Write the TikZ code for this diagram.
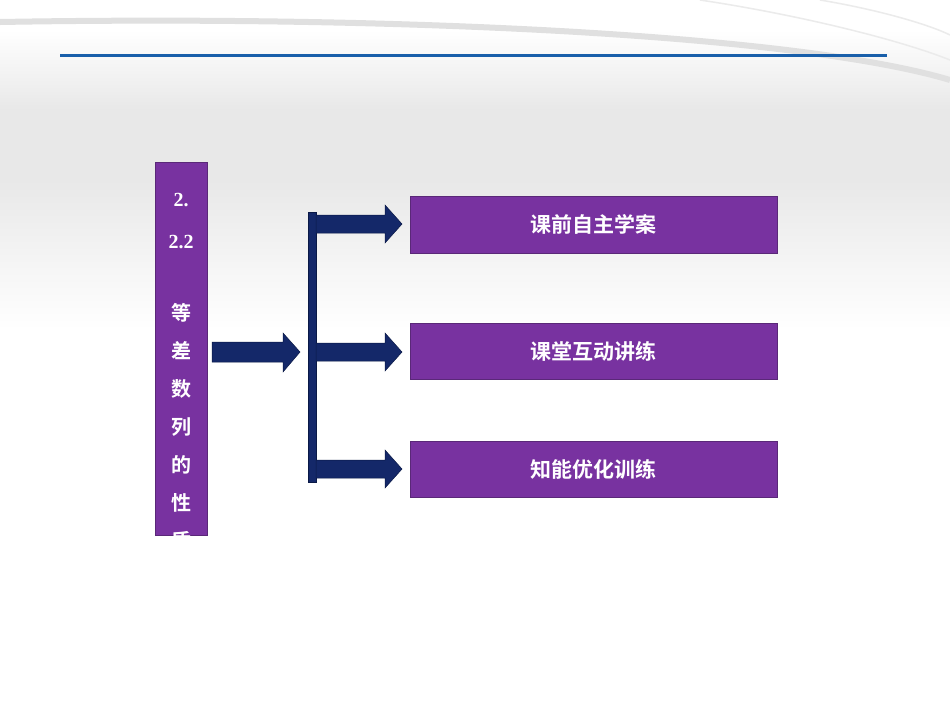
\documentclass[tikz,border=0pt]{standalone}
\usepackage{fontspec}
\setmainfont{Liberation Serif}
\newfontfamily\cjk{Noto Sans CJK SC}[BoldFont={* Bold}]
\definecolor{boxpurple}{RGB}{120,50,160}
\definecolor{boxedge}{RGB}{90,40,120}
\definecolor{navy}{RGB}{20,40,105}
\definecolor{navyedge}{RGB}{10,25,70}
\definecolor{lineblue}{RGB}{25,95,170}
\begin{document}
\begin{tikzpicture}[x=1pt,y=-1pt,
  pbox/.style={draw=boxedge,line width=0.6pt,fill=boxpurple},
  arr/.style={fill=navy,draw=navyedge,line width=0.5pt},
  ptext/.style={text=white,font=\cjk\bfseries\fontsize{21}{24}\selectfont},
  vtext/.style={text=white,font=\cjk\bfseries\fontsize{20}{22}\selectfont},
  ntext/.style={text=white,font=\bfseries\fontsize{20}{22}\selectfont}]
\useasboundingbox (0,0) rectangle (950,713);
\fill[white] (0,0) rectangle (950,713);
\shade[top color=white,bottom color=black!9] (0,30) rectangle (950,110);
\fill[black!9] (0,110) rectangle (950,180);
\shade[top color=black!9,bottom color=white] (0,180) rectangle (950,330);
\draw[black!12,line width=6pt] (0,22) .. controls (400,15) and (800,35) .. (950,80);
\draw[black!8,line width=1.5pt] (700,0) .. controls (800,15) and (900,40) .. (950,60);
\draw[black!8,line width=1.5pt] (820,0) .. controls (880,10) and (930,25) .. (950,35);
\draw[lineblue,line width=3pt] (60,55) -- (887,55);
% left box
\node[pbox,minimum width=52pt,minimum height=373pt,inner sep=0pt] (L) at (181,348.5) {};
\begin{scope}
\clip (155,162) rectangle (207,535);
\node[ntext] (n1) at (181,200) {2.};
\node[ntext] (n2) at (181,242) {2.2};
\foreach \c [count=\i] in {等,差,数,列,的,性,质}
  \node[vtext] (c\i) at (181,{313+38*(\i-1)}) {\c};
\end{scope}
% main arrow
\path[arr] (212,342) -- (283,342) -- (283,333) -- (300,352) -- (283,372) -- (283,362) -- (212,362) -- cycle;
\node[arr,minimum width=8pt,minimum height=270pt,inner sep=0pt] (bar) at (312,347) {};
\node[pbox,minimum width=367pt,minimum height=57pt] (b1) at (593.5,224.5) {};
\node[pbox,minimum width=367pt,minimum height=56pt] (b2) at (593.5,351) {};
\node[pbox,minimum width=367pt,minimum height=56pt] (b3) at (593.5,469) {};
\node[ptext] (t1) at (b1) {课前自主学案};
\node[ptext] (t2) at (b2) {课堂互动讲练};
\node[ptext] (t3) at (b3) {知能优化训练};
\foreach \y in {224,352,469}
  \path[arr] (316,{\y-9}) -- (385,{\y-9}) -- (385,{\y-19}) -- (402,\y) -- (385,{\y+19}) -- (385,{\y+9}) -- (316,{\y+9}) -- cycle;
\end{tikzpicture}
\end{document}
